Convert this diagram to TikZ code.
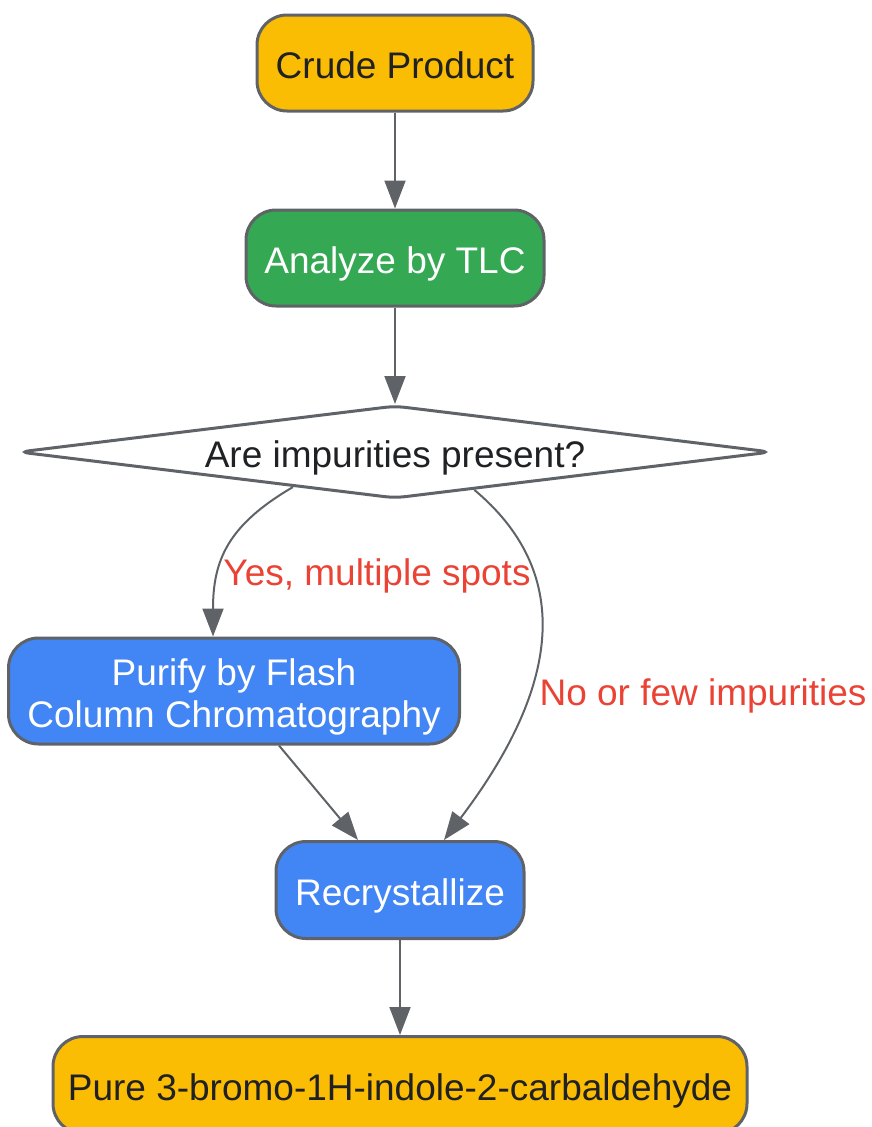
\documentclass[tikz,border=0pt]{standalone}
\usepackage{fontspec}
\setmainfont{Liberation Sans}
\usetikzlibrary{shapes.geometric,arrows.meta,calc}
\definecolor{yel}{HTML}{FBBC04}
\definecolor{grn}{HTML}{34A853}
\definecolor{blu}{HTML}{4285F4}
\definecolor{edge}{HTML}{5F6368}
\definecolor{ink}{HTML}{202124}
\definecolor{lbl}{HTML}{EA4335}
\begin{document}
\begin{tikzpicture}[x=1pt,y=-1pt,
  box/.style={draw=edge, line width=3pt, rounded corners=30pt, inner sep=0pt, align=center,
    text height=30pt, text depth=0pt, font=\fontsize{37}{42}\selectfont},
  decision/.style={diamond, aspect=8.19, draw=edge, fill=white, line width=3pt, rounded corners=10pt,
    inner sep=0pt, minimum width=753pt, minimum height=93pt, text=ink,
    text height=30pt, text depth=0pt, font=\fontsize{37}{42}\selectfont},
  arr/.style={draw=edge, line width=2pt, -{Triangle[length=28pt,width=21pt]}},
  lab/.style={text=lbl, inner sep=0pt, text height=30pt, text depth=0pt, font=\fontsize{37}{42}\selectfont}]
\useasboundingbox (0,0) rectangle (871,1127);
\node[box, fill=yel, text=ink, minimum width=276pt, minimum height=96pt] (crude) at (395,63) {Crude Product};
\node[box, fill=grn, text=white, minimum width=298pt, minimum height=96pt] (tlc) at (395,258) {Analyze by TLC};
\node[decision] (q) at (395,452) {Are impurities present?};
\node[box, fill=blu, text=white, minimum width=451pt, minimum height=106pt, text height=72pt] (flash) at (234,691) {Purify by Flash\\Column Chromatography};
\node[box, fill=blu, text=white, minimum width=248pt, minimum height=97pt] (recr) at (400,890) {Recrystallize};
\node[box, fill=yel, text=ink, minimum width=694pt, minimum height=97pt] (pure) at (400,1085) {Pure 3-bromo-1H-indole-2-carbaldehyde};

\draw[arr] (crude) -- (tlc);
\draw[arr] (tlc) -- (q);
\draw[arr] ($(q.south)!0.27!(q.west)$) .. controls (228,525) and (213,560) .. ([xshift=-21pt]flash.north);
\draw[arr] ($(q.south)!0.21!(q.east)$) .. controls (570,570) and (565,680) .. ([xshift=44pt]recr.north);
\draw[arr] ([xshift=45pt]flash.south) -- ([xshift=-42pt]recr.north);
\draw[arr] (recr) -- (pure);

\node[lab] (yes) at (377,570) {Yes, multiple spots};
\node[lab] (no) at (703,690) {No or few impurities};
\end{tikzpicture}
\end{document}
